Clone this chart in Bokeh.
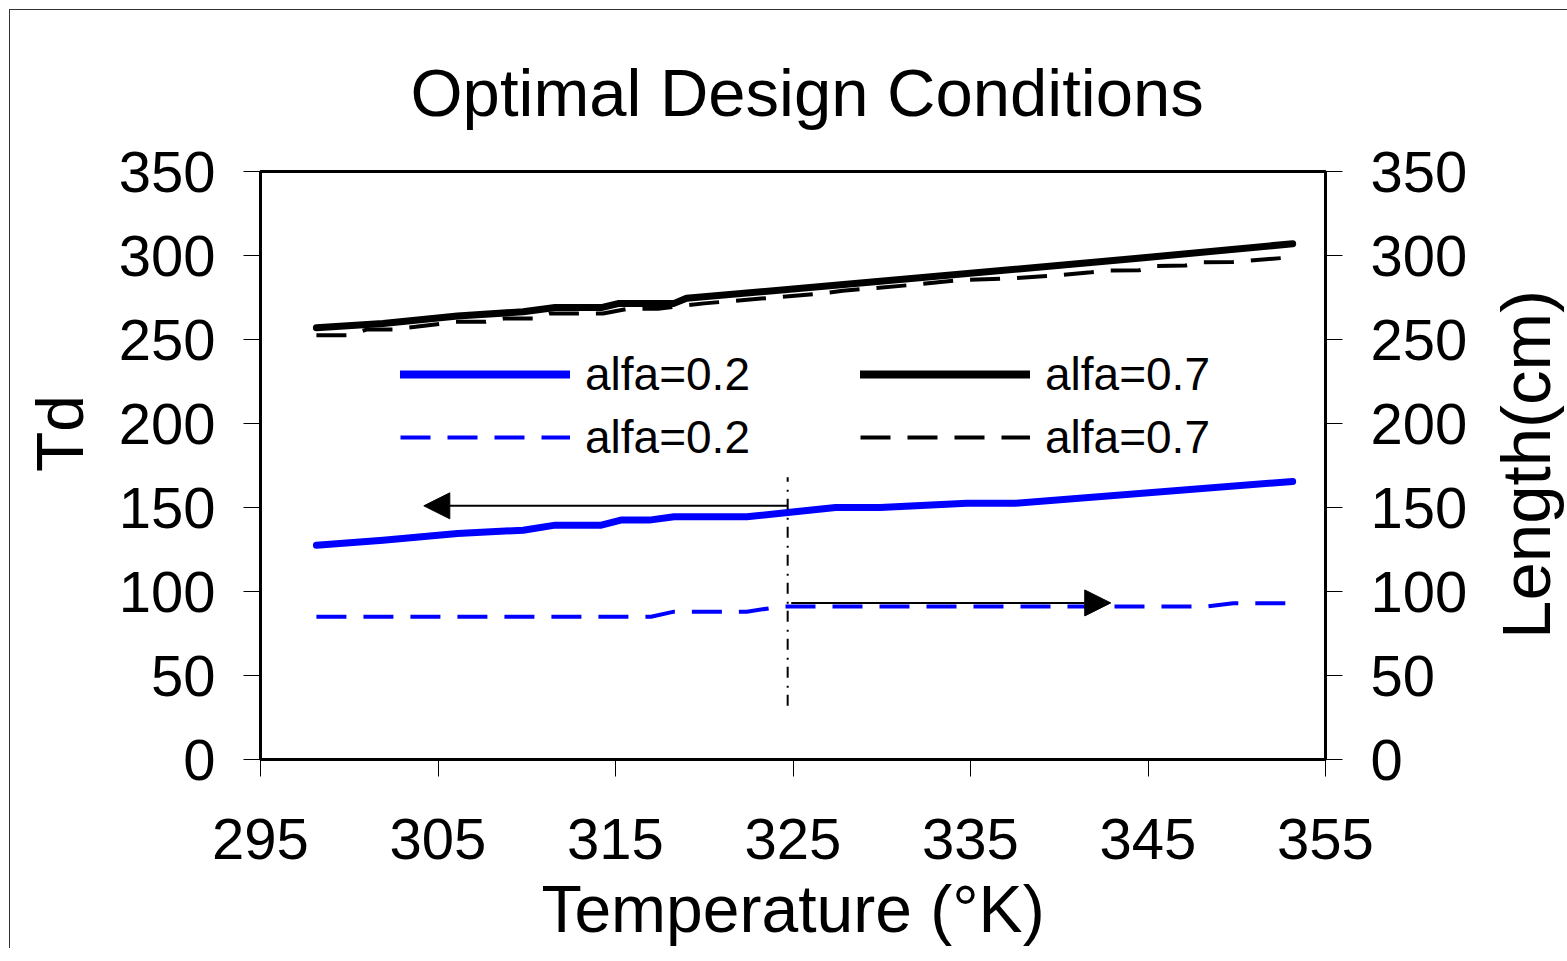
import math
from bokeh.plotting import figure
from bokeh.layouts import row
from bokeh.models import (Range1d, LinearAxis, FixedTicker, Legend, LegendItem,
                          Arrow, NormalHead)
from bokeh.core.properties import value
from bokeh.embed import file_html
from bokeh.resources import INLINE

FONT = "Liberation Sans"

# ---------------- data ----------------
x_ticks = [295, 305, 315, 325, 335, 345, 355]
y_ticks = [0, 50, 100, 150, 200, 250, 300, 350]

# Td, alfa = 0.2 (left axis, solid blue)
t_td_02 = [298.15, 301.9, 306.1, 309.8, 311.6, 314.2, 315.3, 316.9, 318.3, 322.4,
           327.4, 329.9, 334.8, 337.5, 353.15]
td_02 = [127.5, 130.5, 134.5, 136.5, 139.5, 139.5, 142.5, 142.5, 144.5, 144.5,
         150.0, 150.0, 152.5, 152.5, 165.5]

# Td, alfa = 0.7 (left axis, solid black)
t_td_07 = [298.15, 301.9, 306.1, 309.8, 311.6, 314.2, 315.2, 318.3, 319.0,
           327.7, 344.6, 353.15]
td_07 = [257.0, 259.5, 264.0, 266.5, 269.0, 269.0, 271.5, 271.5, 274.5,
         282.6, 298.5, 307.0]

# Length (cm), alfa = 0.2 (right axis, dashed blue)
t_len_02 = [298.15, 317.0, 318.3, 322.4, 324.3, 348.2, 349.8, 353.15]
len_02 = [85.0, 85.0, 88.0, 88.0, 91.0, 91.0, 93.0, 93.0]

# Length (cm), alfa = 0.7 (right axis, dashed black)
t_len_07 = [298.15, 300.0, 301.0, 302.5, 305.3, 306.0, 307.7, 308.7, 310.4, 311.3,
            314.3, 315.7, 317.4, 318.3, 320.0, 326.5, 327.8, 331.7, 334.3, 337.0,
            339.7, 341.8, 342.8, 344.5, 345.4, 347.1, 348.1, 349.8, 353.15]
len_07 = [252.5, 252.5, 256.0, 256.0, 259.5, 260.5, 260.5, 262.5, 262.5, 265.5,
          265.5, 268.3, 268.3, 269.5, 271.5, 277.3, 279.0, 282.5, 285.3, 286.2,
          288.0, 290.0, 291.0, 291.2, 293.7, 294.0, 296.0, 296.2, 299.0]

# annotations (data coordinates)
divider_x = [324.7]
divider_y0 = [32.0]
divider_y1 = [168.0]
arrow_left = dict(x_start=324.7, y_start=151.0, x_end=304.2, y_end=151.0)
arrow_right = dict(x_start=324.9, y_start=93.2, x_end=342.9, y_end=93.2)

TITLE = "Optimal Design Conditions"
X_LABEL = "Temperature (°K)"
Y_LABEL = "Td"
Y2_LABEL = "Length(cm)"

BLUE = "#0000FF"
BLACK = "#000000"
NAN = [float("nan")]
DASH = "30 17"

# ---------------- main figure ----------------
p = figure(frame_width=1065, frame_height=588,
           x_range=Range1d(295, 355), y_range=Range1d(0, 350),
           output_backend="svg", toolbar_location=None,
           min_border_left=152, min_border_right=160,
           min_border_top=161, min_border_bottom=185,
           title=TITLE)
p.extra_y_ranges = {"len": Range1d(0, 350)}

p.background_fill_color = "white"
p.border_fill_color = "white"
p.outline_line_color = BLACK
p.outline_line_width = 3
p.xgrid.visible = False
p.ygrid.visible = False

p.title.text_font = FONT
p.title.text_font_size = "67px"
p.title.text_font_style = "normal"
p.title.text_color = BLACK
p.title.align = "left"
p.title.offset = 150
p.title.standoff = 84

right_axis = LinearAxis(y_range_name="len")
p.add_layout(right_axis, "right")

for ax in [p.xaxis[0], p.yaxis[0], right_axis]:
    ax.axis_line_width = 3
    ax.axis_line_color = BLACK
    ax.major_tick_line_width = 1
    ax.major_tick_line_color = BLACK
    ax.major_tick_out = 17
    ax.major_tick_in = 0
    ax.minor_tick_out = 0
    ax.minor_tick_in = 0
    ax.major_label_text_font = FONT
    ax.major_label_text_font_size = "58px"
    ax.major_label_text_color = BLACK
    ax.axis_label_text_font = FONT
    ax.axis_label_text_font_size = "66px"
    ax.axis_label_text_font_style = "normal"
    ax.axis_label_text_color = BLACK

p.xaxis[0].ticker = FixedTicker(ticks=x_ticks)
p.yaxis[0].ticker = FixedTicker(ticks=y_ticks)
right_axis.ticker = FixedTicker(ticks=y_ticks)

p.xaxis[0].axis_label = X_LABEL
p.xaxis[0].major_label_standoff = 42
p.xaxis[0].axis_label_standoff = 10

p.yaxis[0].major_label_standoff = 28
right_axis.major_label_standoff = 28

# ---------------- data lines ----------------
p.line(t_len_07, len_07, y_range_name="len", line_color=BLACK, line_width=4,
       line_dash=DASH)
p.line(t_len_02, len_02, y_range_name="len", line_color=BLUE, line_width=4,
       line_dash=DASH)
p.line(t_td_07, td_07, line_color=BLACK, line_width=7,
       line_join="round", line_cap="round")
p.line(t_td_02, td_02, line_color=BLUE, line_width=7,
       line_join="round", line_cap="round")

# divider and arrows
p.segment(x0=divider_x, y0=divider_y0, x1=divider_x, y1=divider_y1,
          line_color=BLACK, line_width=2, line_dash="11 7 2 8")
p.add_layout(Arrow(end=NormalHead(size=26, fill_color=BLACK, line_color=BLACK),
                   line_color=BLACK, line_width=2, **arrow_left))
p.add_layout(Arrow(end=NormalHead(size=26, fill_color=BLACK, line_color=BLACK),
                   line_color=BLACK, line_width=2, y_range_name="len", **arrow_right))

# ---------------- legend (legend-only glyphs, no visible data) ----------------
lg_b_solid = p.line(NAN, NAN, line_color=BLUE, line_width=8, line_cap="round")
lg_b_dash = p.line(NAN, NAN, line_color=BLUE, line_width=4, line_dash=DASH)
lg_k_solid = p.line(NAN, NAN, line_color=BLACK, line_width=8, line_cap="round")
lg_k_dash = p.line(NAN, NAN, line_color=BLACK, line_width=4, line_dash=DASH)


def make_legend(items, loc):
    lg = Legend(items=items, location=loc, orientation="vertical",
                border_line_alpha=0, background_fill_alpha=0,
                padding=0, margin=0, spacing=9,
                glyph_height=50, glyph_width=170, label_height=50,
                label_standoff=15, label_text_font=FONT,
                label_text_font_size="46px", label_text_color=BLACK)
    p.add_layout(lg, "center")


make_legend([LegendItem(label="alfa=0.2", renderers=[lg_b_solid]),
             LegendItem(label="alfa=0.2", renderers=[lg_b_dash])], (140, 295))
make_legend([LegendItem(label="alfa=0.7", renderers=[lg_k_solid]),
             LegendItem(label="alfa=0.7", renderers=[lg_k_dash])], (600, 295))


# ---------------- side strips holding the vertical axis titles ----------------
def label_strip(text, width, height, size):
    s = figure(width=width, height=height, x_range=Range1d(0, 1), y_range=Range1d(0, 1),
               output_backend="svg", toolbar_location=None,
               x_axis_type=None, y_axis_type=None,
               min_border=0, min_border_left=0, min_border_right=0,
               min_border_top=0, min_border_bottom=0)
    s.outline_line_color = None
    s.background_fill_color = "white"
    s.border_fill_color = "white"
    s.xgrid.visible = False
    s.ygrid.visible = False
    s.text(x=[0.5], y=[0.5], text=[text], angle=90, angle_units="deg",
           text_font=value(FONT), text_font_size=size, text_color=BLACK,
           text_align="center", text_baseline="middle")
    return s


left_strip = label_strip(Y_LABEL, 98, 874, "66px")
right_strip = label_strip(Y2_LABEL, 82, 936, "69px")

layout = row(left_strip, p, right_strip, spacing=0)
layout.styles = {"margin-left": "9px", "margin-top": "9px",
                 "border-left": "1px solid #333", "border-top": "1px solid #333"}

open("out.html", "w").write(file_html(layout, INLINE))
